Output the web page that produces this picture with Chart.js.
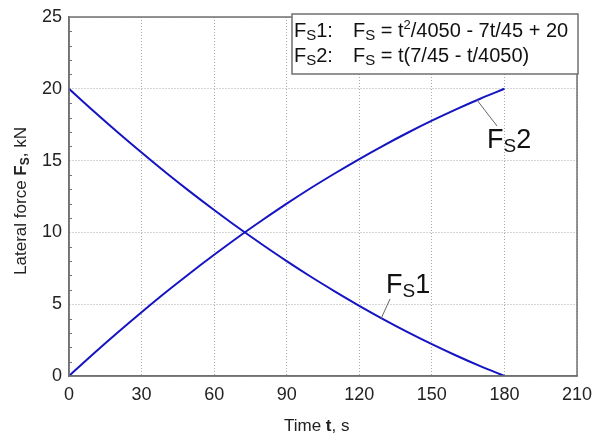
<!DOCTYPE html>
<html>
<head>
<meta charset="utf-8">
<script src="https://cdn.jsdelivr.net/npm/chart.js@4.4.1/dist/chart.umd.min.js"></script>
<style>
  html, body { margin: 0; padding: 0; background: #fff; }
  #wrap { width: 594px; height: 436px; }
</style>
</head>
<body>
<div id="wrap"><canvas id="fsChart" width="594" height="436"></canvas></div>
<script>
// time, s
const times = [0, 10, 20, 30, 40, 50, 60, 70, 80, 90, 100, 110, 120, 130, 140, 150, 160, 170, 180];
// FS1 lateral force, kN
const fs1 = [20, 18.47, 16.99, 15.56, 14.17, 12.84, 11.56, 10.32, 9.14, 8.0, 6.91, 5.88, 4.89, 3.95, 3.06, 2.22, 1.43, 0.69, 0];
// FS2 lateral force, kN
const fs2 = [0, 1.53, 3.01, 4.44, 5.83, 7.16, 8.44, 9.68, 10.86, 12.0, 13.09, 14.12, 15.11, 16.05, 16.94, 17.78, 18.57, 19.31, 20.0];
const xTicks = [0, 30, 60, 90, 120, 150, 180, 210];
const yTicks = [0, 5, 10, 15, 20, 25];

const FONT = "Arial, 'Liberation Sans', sans-serif";
const lineBlue = "rgb(20, 20, 195)";

function pts(ys) {
    return times.map((t, i) => ({ x: t, y: ys[i] }));
}

// draw a row of text pieces, each with its own size / weight / offset
function drawRuns(ctx, x, y, runs) {
    runs.forEach(r => {
        ctx.font = (r.bold ? "bold " : "") + r.size + "px " + FONT;
        ctx.fillText(r.t, x, y + (r.dy || 0));
        x += ctx.measureText(r.t).width;
    });
    return x;
}
function runsWidth(ctx, runs) {
    let w = 0;
    runs.forEach(r => {
        ctx.font = (r.bold ? "bold " : "") + r.size + "px " + FONT;
        w += ctx.measureText(r.t).width;
    });
    return w;
}

const extras = {
    id: "extras",
    afterDraw(chart) {
        const ctx = chart.ctx;
        const a = chart.chartArea;
        const xs = chart.scales.x, ys = chart.scales.y;
        ctx.save();

        // frame
        ctx.strokeStyle = "#707070";
        ctx.lineWidth = 1.5;
        ctx.strokeRect(a.left, a.top, a.right - a.left, a.bottom - a.top);

        // minor ticks on the left axis
        ctx.lineWidth = 1;
        for (let v = 0; v <= 25; v++) {
            if (v % 5 === 0) continue;
            const py = Math.round(ys.getPixelForValue(v)) + 0.5;
            ctx.beginPath();
            ctx.moveTo(a.left, py);
            ctx.lineTo(a.left + 3, py);
            ctx.stroke();
        }

        ctx.fillStyle = "#222";
        ctx.textBaseline = "alphabetic";
        ctx.textAlign = "left";

        // x title
        const xt = [{ t: "Time ", size: 17 }, { t: "t", size: 17, bold: true }, { t: ", s", size: 17 }];
        drawRuns(ctx, 284, 431, xt);

        // y title
        const yt = [
            { t: "Lateral force ", size: 17 },
            { t: "F", size: 17, bold: true },
            { t: "S", size: 12, bold: true, dy: 3 },
            { t: ", kN", size: 17 }
        ];
        ctx.save();
        ctx.translate(26, 201);
        ctx.rotate(-Math.PI / 2);
        drawRuns(ctx, -runsWidth(ctx, yt) / 2, 0, yt);
        ctx.restore();

        // legend box
        ctx.fillStyle = "#fff";
        ctx.fillRect(292, 14, 286, 60);
        ctx.strokeStyle = "#707070";
        ctx.lineWidth = 1.5;
        ctx.strokeRect(292, 14, 286, 60);
        ctx.fillStyle = "#111";
        drawRuns(ctx, 294, 37, [{ t: "F", size: 20 }, { t: "S", size: 15, dy: 3 }, { t: "1:", size: 20 }]);
        drawRuns(ctx, 353, 37, [
            { t: "F", size: 20 }, { t: "S", size: 15, dy: 3 },
            { t: " = t", size: 20 }, { t: "2", size: 13, dy: -8 },
            { t: "/4050 - 7t/45 + 20", size: 20 }
        ]);
        drawRuns(ctx, 294, 62, [{ t: "F", size: 20 }, { t: "S", size: 15, dy: 3 }, { t: "2:", size: 20 }]);
        drawRuns(ctx, 353, 62, [
            { t: "F", size: 20 }, { t: "S", size: 15, dy: 3 },
            { t: " = t(7/45 - t/4050)", size: 20 }
        ]);

        // curve labels with leader lines
        ctx.strokeStyle = "#666";
        ctx.lineWidth = 1;
        ctx.beginPath();
        ctx.moveTo(xs.getPixelForValue(168.5), ys.getPixelForValue(19.25));
        ctx.lineTo(497, 126);
        ctx.moveTo(xs.getPixelForValue(129), ys.getPixelForValue(3.99));
        ctx.lineTo(390, 299);
        ctx.stroke();

        ctx.fillStyle = "#111";
        drawRuns(ctx, 487, 148, [{ t: "F", size: 27 }, { t: "S", size: 19, dy: 4 }, { t: "2", size: 27 }]);
        drawRuns(ctx, 386, 293, [{ t: "F", size: 27 }, { t: "S", size: 19, dy: 4 }, { t: "1", size: 27 }]);

        ctx.restore();
    }
};

new Chart(document.getElementById("fsChart"), {
    type: "line",
    data: {
        datasets: [
            { label: "FS1", data: pts(fs1), borderColor: lineBlue, borderWidth: 2, pointRadius: 0, tension: 0.3, fill: false },
            { label: "FS2", data: pts(fs2), borderColor: lineBlue, borderWidth: 2, pointRadius: 0, tension: 0.3, fill: false }
        ]
    },
    options: {
        responsive: false,
        animation: false,
        layout: { padding: { left: 0, right: 17, top: 17, bottom: 0 } },
        plugins: { legend: { display: false }, tooltip: { enabled: false } },
        scales: {
            x: {
                type: "linear",
                min: 0, max: 210,
                afterBuildTicks: s => { s.ticks = xTicks.map(v => ({ value: v })); },
                afterFit: s => { s.height = 60; s.paddingLeft = 0; s.paddingRight = 0; },
                grid: { color: "#aaa", lineWidth: 1, drawTicks: false },
                border: { display: true, color: "#707070", width: 1.5, dash: [1, 2] },
                ticks: { color: "#222", padding: 8, font: { family: FONT, size: 18 }, maxRotation: 0 }
            },
            y: {
                type: "linear",
                min: 0, max: 25,
                afterBuildTicks: s => { s.ticks = yTicks.map(v => ({ value: v })); },
                afterFit: s => { s.width = 69; s.paddingTop = 0; s.paddingBottom = 0; },
                grid: { color: "#aaa", lineWidth: 1, drawTicks: false },
                border: { display: true, color: "#707070", width: 1.5, dash: [1, 2] },
                ticks: { color: "#222", padding: 7, font: { family: FONT, size: 18 } }
            }
        }
    },
    plugins: [extras]
});
</script>
</body>
</html>
